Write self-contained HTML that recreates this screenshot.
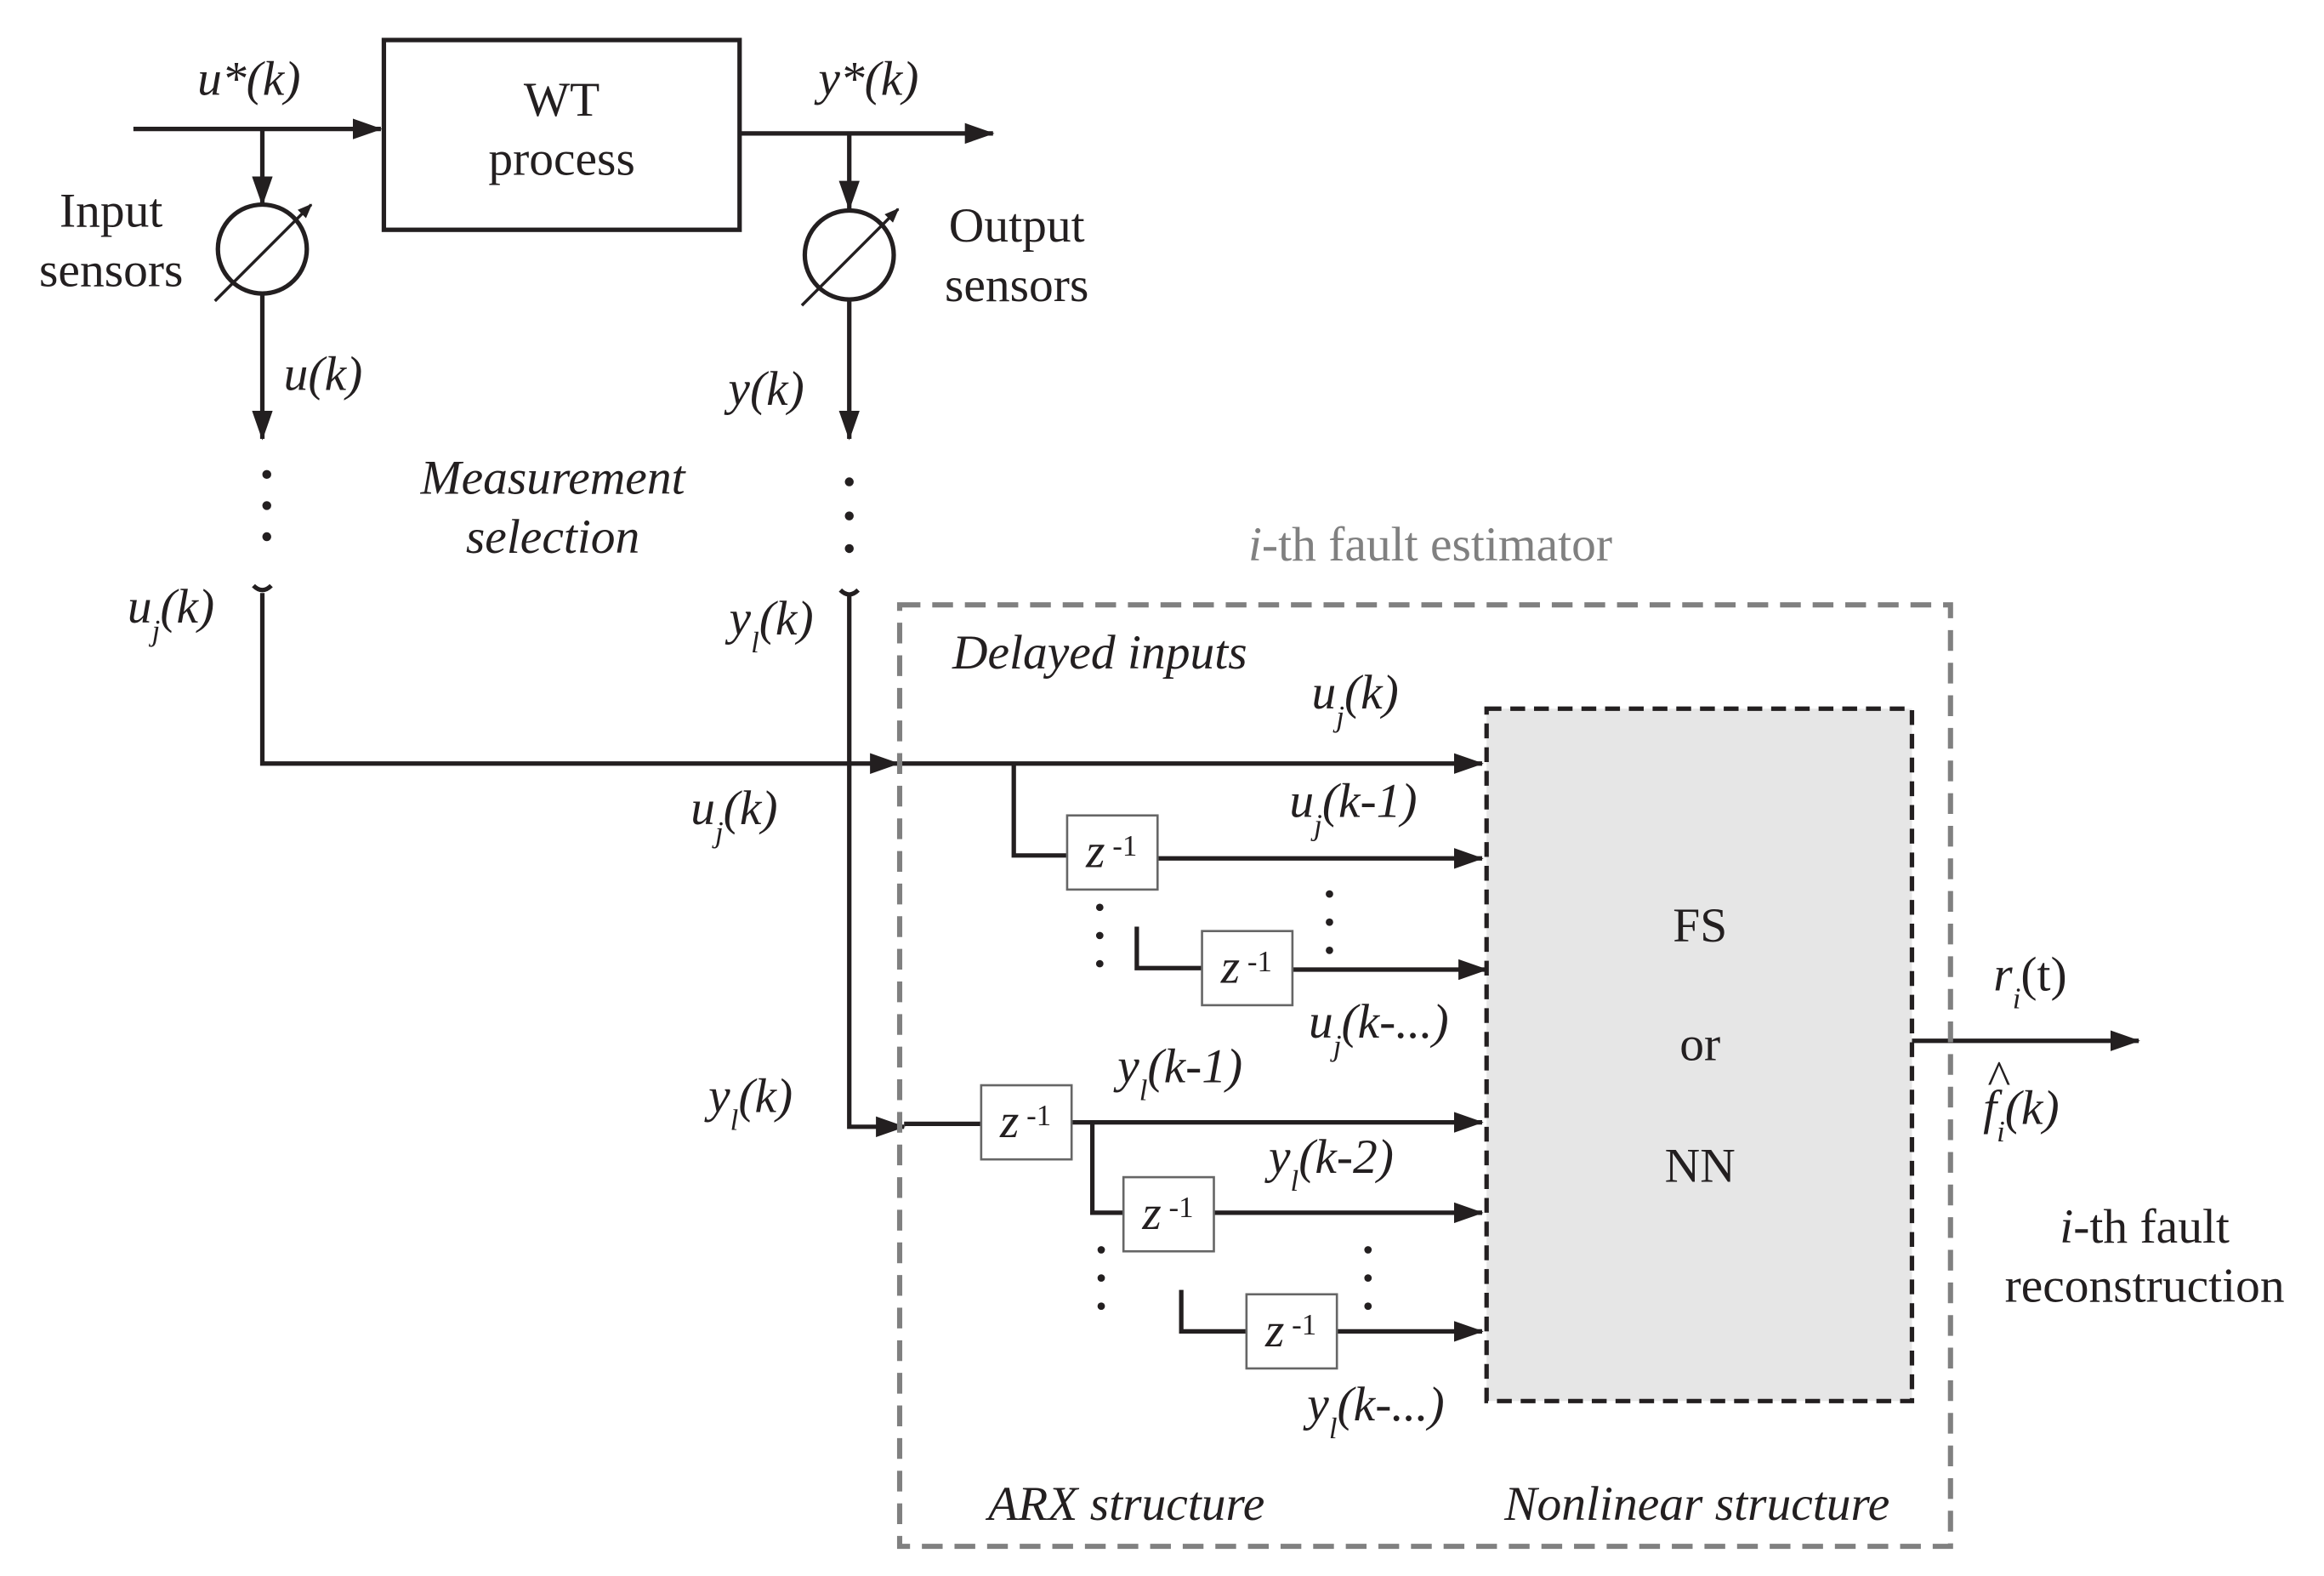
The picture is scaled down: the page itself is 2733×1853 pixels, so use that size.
<!DOCTYPE html>
<html><head><meta charset="utf-8"><style>html,body{margin:0;padding:0;background:#fff}svg{display:block}text{font-family:"Liberation Serif",serif;font-size:33px;fill:#231f20}.i{font-style:italic}</style></head><body>
<svg width="2733" height="1853" viewBox="0 0 1568 1063" preserveAspectRatio="none" xmlns="http://www.w3.org/2000/svg">
<defs><marker id="a" markerWidth="10" markerHeight="8" refX="9" refY="4" orient="auto" markerUnits="userSpaceOnUse"><path d="M0,0 L22,4 L0,8z" transform="scale(0.45,1)" fill="#231f20"/></marker>
<marker id="b" markerWidth="20" markerHeight="14" refX="19" refY="7" orient="auto" markerUnits="userSpaceOnUse"><path d="M0,0 L20,7 L0,14z" fill="#231f20"/></marker></defs>
<g stroke="#231f20" stroke-width="3" fill="none">
<rect x="259" y="27" width="240" height="128"/>
<line x1="90" y1="87" x2="257" y2="87" marker-end="url(#b)"/>
<line x1="499" y1="90" x2="670" y2="90" marker-end="url(#b)"/>
<line x1="177" y1="87" x2="177" y2="138" marker-end="url(#b)"/>
<circle cx="177" cy="168" r="30"/>
<line x1="145" y1="203" x2="210" y2="138" marker-end="url(#a)" stroke-width="2"/>
<line x1="177" y1="198" x2="177" y2="296" marker-end="url(#b)"/>
<line x1="573" y1="90" x2="573" y2="141" marker-end="url(#b)"/>
<circle cx="573" cy="172" r="30"/>
<line x1="541" y1="206" x2="606" y2="141" marker-end="url(#a)" stroke-width="2"/>
<line x1="573" y1="202" x2="573" y2="296" marker-end="url(#b)"/>
<path d="M171,395 q6,6 12,0 M567,398 q6,6 12,0"/>
<path d="M177,400 V515 H606" marker-end="url(#b)"/>
<line x1="606" y1="515" x2="1000" y2="515" marker-end="url(#b)"/>
<path d="M573,400 V760 H610" marker-end="url(#b)"/>
<path d="M684,515 V577 H720"/>
<line x1="781" y1="579" x2="1000" y2="579" marker-end="url(#b)"/>
<path d="M767,625 V653 H811"/>
<line x1="872" y1="654" x2="1003" y2="654" marker-end="url(#b)"/>
<line x1="610" y1="758" x2="662" y2="758"/>
<line x1="723" y1="757" x2="1000" y2="757" marker-end="url(#b)"/>
<path d="M737,757 V818 H758"/>
<line x1="819" y1="818" x2="1000" y2="818" marker-end="url(#b)"/>
<path d="M797,870 V898 H841"/>
<line x1="902" y1="898" x2="1000" y2="898" marker-end="url(#b)"/>
<line x1="1290" y1="702" x2="1443" y2="702" marker-end="url(#b)"/>
</g>
<g fill="#231f20">
<circle cx="180" cy="320" r="3"/><circle cx="180" cy="341" r="3"/><circle cx="180" cy="362" r="3"/>
<circle cx="573" cy="325" r="3"/><circle cx="573" cy="348" r="3"/><circle cx="573" cy="370" r="3"/>
<circle cx="742" cy="612" r="2.5"/><circle cx="742" cy="631" r="2.5"/><circle cx="742" cy="650" r="2.5"/>
<circle cx="897" cy="603" r="2.5"/><circle cx="897" cy="622" r="2.5"/><circle cx="897" cy="641" r="2.5"/>
<circle cx="743" cy="843" r="2.5"/><circle cx="743" cy="862" r="2.5"/><circle cx="743" cy="881" r="2.5"/>
<circle cx="923" cy="843" r="2.5"/><circle cx="923" cy="862" r="2.5"/><circle cx="923" cy="881" r="2.5"/>
</g>
<rect x="607" y="408" width="709" height="635" fill="none" stroke="#808080" stroke-width="3.5" stroke-dasharray="14,8"/>
<rect x="1003" y="478" width="287" height="467" fill="#e6e6e6" stroke="#231f20" stroke-width="3" stroke-dasharray="10,6"/>
<g fill="#fff" stroke="#666" stroke-width="1.5">
<rect x="720" y="550" width="61" height="50"/><rect x="811" y="628" width="61" height="50"/>
<rect x="662" y="732" width="61" height="50"/><rect x="758" y="794" width="61" height="50"/><rect x="841" y="873" width="61" height="50"/>
</g>
<g font-size="26" text-anchor="middle">
<text x="750" y="585" class="i">z<tspan font-style="normal" font-size="20" dy="-8"> -1</tspan></text>
<text x="841" y="663" class="i">z<tspan font-style="normal" font-size="20" dy="-8"> -1</tspan></text>
<text x="692" y="767" class="i">z<tspan font-style="normal" font-size="20" dy="-8"> -1</tspan></text>
<text x="788" y="829" class="i">z<tspan font-style="normal" font-size="20" dy="-8"> -1</tspan></text>
<text x="871" y="908" class="i">z<tspan font-style="normal" font-size="20" dy="-8"> -1</tspan></text>
</g>
<g text-anchor="middle">
<text x="379" y="78">WT</text><text x="379" y="118">process</text>
<text x="168" y="64" class="i">u*(k)</text><text x="586" y="64" class="i">y*(k)</text>
<text x="75" y="153">Input</text><text x="75" y="193">sensors</text>
<text x="686" y="163">Output</text><text x="686" y="203">sensors</text>
<text x="218" y="263" class="i">u(k)</text><text x="517" y="273" class="i">y(k)</text>
<text x="373" y="333" class="i">Measurement</text><text x="373" y="373" class="i">selection</text>
<text x="965" y="378" style="fill:#808080"><tspan class="i">i</tspan>-th fault estimator</text>
<text x="742" y="451" class="i">Delayed inputs</text>
<text x="1147" y="635">FS</text><text x="1147" y="715">or</text><text x="1147" y="797">NN</text>
<text x="1447" y="838"><tspan class="i">i</tspan>-th fault</text><text x="1447" y="878">reconstruction</text>
<text x="760" y="1025" class="i">ARX structure</text><text x="1145" y="1025" class="i">Nonlinear structure</text>
</g>
<g class="i">
<text x="86" y="420" class="i">u<tspan font-size="20" dy="12">j</tspan><tspan dy="-12">(k)</tspan></text>
<text x="492" y="428" class="i">y<tspan font-size="20" dy="12">l</tspan><tspan dy="-12">(k)</tspan></text>
<text x="885" y="478" class="i">u<tspan font-size="20" dy="12">j</tspan><tspan dy="-12">(k)</tspan></text>
<text x="466" y="556" class="i">u<tspan font-size="20" dy="12">j</tspan><tspan dy="-12">(k)</tspan></text>
<text x="870" y="551" class="i">u<tspan font-size="20" dy="12">j</tspan><tspan dy="-12">(k-1)</tspan></text>
<text x="883" y="700" class="i">u<tspan font-size="20" dy="12">j</tspan><tspan dy="-12">(k-...)</tspan></text>
<text x="478" y="750" class="i">y<tspan font-size="20" dy="12">l</tspan><tspan dy="-12">(k)</tspan></text>
<text x="754" y="730" class="i">y<tspan font-size="20" dy="12">l</tspan><tspan dy="-12">(k-1)</tspan></text>
<text x="856" y="791" class="i">y<tspan font-size="20" dy="12">l</tspan><tspan dy="-12">(k-2)</tspan></text>
<text x="882" y="958" class="i">y<tspan font-size="20" dy="12">l</tspan><tspan dy="-12">(k-...)</tspan></text>
<text x="1345" y="668" class="i">r<tspan font-size="20" dy="12">i</tspan><tspan dy="-12" font-style="normal">(t)</tspan></text>
<text x="1338" y="758" class="i">f<tspan font-size="20" dy="12">i</tspan><tspan dy="-12">(k)</tspan></text>
<text x="1341" y="738" font-style="normal" font-size="24">^</text>
</g>
</svg></body></html>
